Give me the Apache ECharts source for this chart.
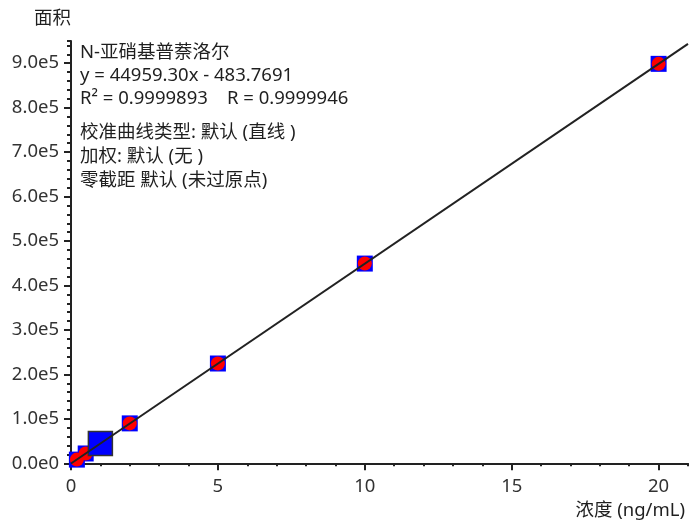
<!DOCTYPE html>
<html>
<head>
<meta charset="utf-8">
<script src="https://cdn.jsdelivr.net/npm/echarts@6/dist/echarts.min.js"></script>
<style>
  html, body { margin: 0; padding: 0; background: #fff; }
  #chart { width: 689px; height: 521px; }
</style>
</head>
<body>
<div id="chart"></div>
<script>
// Calibration standards: concentration (ng/mL) and peak area
const concentrations = [0.2, 0.5, 1, 2, 5, 10, 20];
const areas = [8300, 22100, 44600, 89800, 224500, 449300, 898600];
// Standard currently picked in the table (drawn as the large square)
const selectedIndex = 2;

// Linear fit reported in the annotation
const slope = 44959.30;
const intercept = -483.7691;
const fitRange = [0, 21];

// Axis tick labels
const xTickLabels = ['0', '5', '10', '15', '20'];
const yTickLabels = ['0.0e0', '1.0e5', '2.0e5', '3.0e5', '4.0e5', '5.0e5', '6.0e5', '7.0e5', '8.0e5', '9.0e5'];

// Annotation block
const infoLines = [
  'N-亚硝基普萘洛尔',
  'y = 44959.30x - 483.7691',
  'R² = 0.9999893    R = 0.9999946',
  '',
  '校准曲线类型: 默认 (直线 )',
  '加权: 默认 (无 )',
  '零截距 默认 (未过原点)'
];
const yAxisTitle = '面积';
const xAxisTitle = '浓度 (ng/mL)';

const FONT = '"Noto Sans", "Noto Sans CJK SC", sans-serif';
const FS = 18.5;
const INK = '#1f1f1f';
const AXIS = '#222';

const normalPts = [];
concentrations.forEach((c, i) => { if (i !== selectedIndex) normalPts.push([c, areas[i]]); });
const selectedPts = [[concentrations[selectedIndex], areas[selectedIndex]]];
const fitPts = fitRange.map(x => [x, slope * x + intercept]);

const chart = echarts.init(document.getElementById('chart'), null, { renderer: 'canvas' });

// Grid 0 holds the data and minor ticks; grid 1 carries the labelled major ticks
const g0 = { left: 71, right: 1, top: 41, bottom: 57.7 };
const plotH = 521 - g0.top - g0.bottom;
const plotW = 689 - g0.left - g0.right;
const g1 = {
  left: g0.left,
  right: 689 - (g0.left + plotW * 20 / 21),
  top: g0.top + plotH * (1 - 9 / 9.5),
  bottom: g0.bottom
};

const infoGraphics = [];
const lineTops = [43, 66, 89, 0, 123, 147, 171];
infoLines.forEach((t, i) => {
  if (!t) return;
  infoGraphics.push({
    type: 'text', left: 80, top: lineTops[i],
    style: { text: t, fill: INK, font: FS + 'px ' + FONT }
  });
});

chart.setOption({
  animation: false,
  backgroundColor: '#fff',
  grid: [
    { left: g0.left, right: g0.right, top: g0.top, bottom: g0.bottom, containLabel: false },
    { left: g1.left, right: g1.right, top: g1.top, bottom: g1.bottom, containLabel: false }
  ],
  xAxis: [
    {
      type: 'value', gridIndex: 0, min: 0, max: 21, interval: 1,
      axisLine: { show: true, onZero: false, lineStyle: { color: AXIS, width: 2 } },
      axisTick: { show: true, length: 3, lineStyle: { color: AXIS, width: 2 } },
      axisLabel: { show: false },
      splitLine: { show: false }
    },
    {
      type: 'value', gridIndex: 1, min: 0, max: 20, interval: 5,
      axisLine: { show: false, onZero: false },
      axisTick: { show: true, length: 7, lineStyle: { color: AXIS, width: 2 } },
      axisLabel: {
        show: true, margin: 14, color: '#333', fontSize: FS, fontFamily: FONT,
        formatter: v => xTickLabels[Math.round(v / 5)] || ''
      },
      splitLine: { show: false }
    }
  ],
  yAxis: [
    {
      type: 'value', gridIndex: 0, min: 0, max: 950000, interval: 20000,
      axisLine: { show: true, onZero: false, lineStyle: { color: AXIS, width: 2 } },
      axisTick: { show: true, length: 4, lineStyle: { color: AXIS, width: 2 } },
      axisLabel: { show: false },
      splitLine: { show: false }
    },
    {
      type: 'value', gridIndex: 1, min: 0, max: 900000, interval: 100000,
      axisLine: { show: false, onZero: false },
      axisTick: { show: true, length: 7, lineStyle: { color: AXIS, width: 2 } },
      axisLabel: {
        show: true, margin: 12, color: '#333', fontSize: FS, fontFamily: FONT,
        formatter: v => yTickLabels[Math.round(v / 100000)] || ''
      },
      splitLine: { show: false }
    }
  ],
  series: [
    {
      type: 'scatter', xAxisIndex: 0, yAxisIndex: 0, data: normalPts,
      symbol: 'rect', symbolSize: 16, z: 2,
      itemStyle: { color: '#0000ff', opacity: 1 }, silent: true
    },
    {
      type: 'scatter', xAxisIndex: 0, yAxisIndex: 0, data: normalPts,
      symbol: 'circle', symbolSize: 14, z: 3,
      itemStyle: { color: '#ff0000', opacity: 1 }, silent: true
    },
    {
      type: 'scatter', xAxisIndex: 0, yAxisIndex: 0, data: selectedPts,
      symbol: 'rect', symbolSize: 24, z: 4,
      itemStyle: { color: '#0000ff', borderColor: '#333', borderWidth: 1.5, opacity: 1 }, silent: true
    },
    {
      type: 'line', xAxisIndex: 0, yAxisIndex: 0, data: fitPts,
      showSymbol: false, symbol: 'none', z: 5, clip: true,
      lineStyle: { color: '#222', width: 2 }, silent: true
    }
  ],
  graphic: [
    {
      type: 'text', left: 34, top: 9,
      style: { text: yAxisTitle, fill: INK, font: FS + 'px ' + FONT }
    },
    {
      type: 'text', right: 4, top: 501,
      style: { text: xAxisTitle, fill: INK, font: FS + 'px ' + FONT }
    }
  ].concat(infoGraphics)
});
</script>
</body>
</html>
